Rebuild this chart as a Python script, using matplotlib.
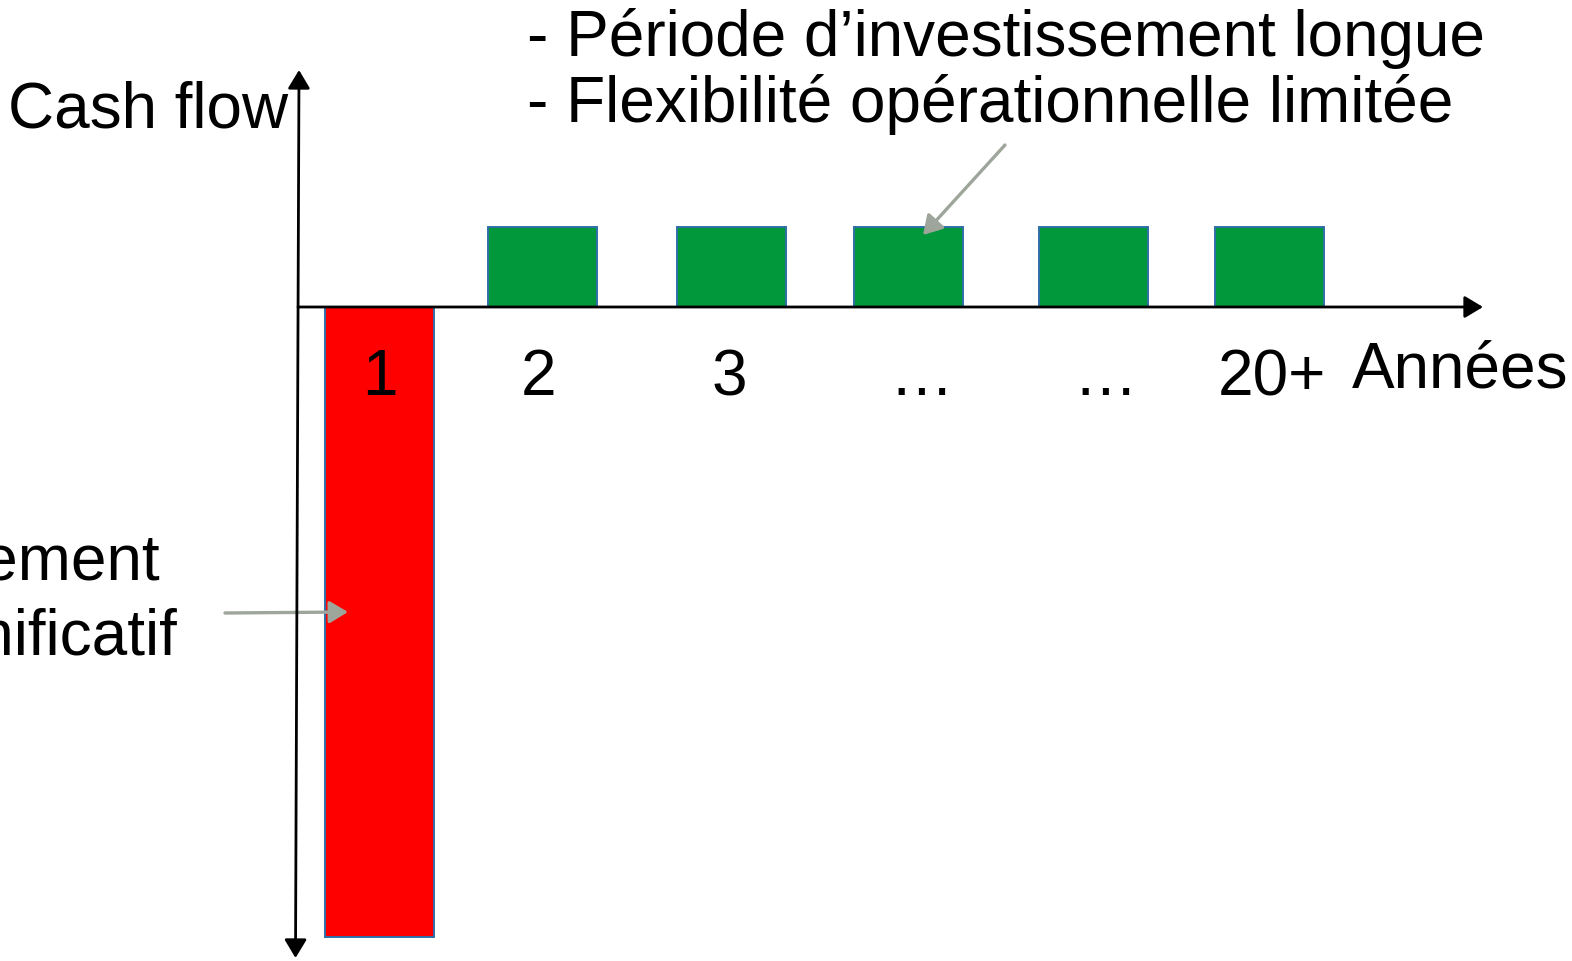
import matplotlib
matplotlib.use('Agg')
import matplotlib.pyplot as plt

plt.rcParams['font.family'] = ['Liberation Sans', 'DejaVu Sans']

# data
years = ['1', '2', '3', '…', '…', '20+']
cash_flows = [-7.87, 1.0, 1.0, 1.0, 1.0, 1.0]
bar_colors = ['#FF0000', '#00983A', '#00983A', '#00983A', '#00983A', '#00983A']
notes_top = ['- Période d’investissement longue', '- Flexibilité opérationnelle limitée']
notes_left = ['Investissement', 'initial significatif']

# layout (pixels of the 1572x961 picture)
W, H = 1572, 961
bar_x = [379, 542.5, 731.5, 908, 1093, 1269.5]
label_x = [380, 539, 729, 921, 1105, 1272]
y0 = 307       # pixel row of the zero line
unit = 80      # pixels per cash-flow unit
fs = 46
grey = '#9EA69B'
edge = '#2F6FA7'

def vy(ypix):
    return (y0 - ypix) / unit

fig = plt.figure(figsize=(W / 100, H / 100), dpi=100)
ax = fig.add_axes([0, 0, 1, 1])
ax.set_xlim(0, W)
ax.set_ylim(vy(H), vy(0))
ax.axis('off')

ax.bar(bar_x, cash_flows, width=109, color=bar_colors, edgecolor=edge, linewidth=1.4, zorder=2)

# axes with arrows
head = '-|>,head_length=0.4,head_width=0.24'
ax.annotate('', xy=(1483, 0), xytext=(298, 0),
            arrowprops=dict(arrowstyle=head, lw=2.0, color='black', mutation_scale=28,
                            shrinkA=0, shrinkB=0), zorder=3)
ax.annotate('', xy=(299, vy(70)), xytext=(295.5, vy(958)),
            arrowprops=dict(arrowstyle='<|-|>,head_length=0.4,head_width=0.24', lw=2.0, color='black',
                            mutation_scale=28, shrinkA=0, shrinkB=0), zorder=3)

# grey pointer arrows
ax.annotate('', xy=(348, vy(612)), xytext=(225, vy(613)),
            arrowprops=dict(arrowstyle=head, lw=2.4, color=grey, mutation_scale=28,
                            shrinkA=0, shrinkB=0), zorder=2.5)
ax.annotate('', xy=(923, vy(235)), xytext=(1005, vy(145)),
            arrowprops=dict(arrowstyle=head, lw=2.4, color=grey, mutation_scale=28,
                            shrinkA=0, shrinkB=0), zorder=4)

# category labels
for x, lab in zip(label_x, years):
    ax.text(x, vy(395), lab, ha='center', va='baseline', fontsize=fs, zorder=5)

ax.text(1352, vy(388), 'Années', ha='left', va='baseline', fontsize=fs)
ax.text(8, vy(127), 'Cash flow', ha='left', va='baseline', fontsize=fs)

for i, line in enumerate(notes_top):
    ax.text(527, vy(56 + 66 * i), line, ha='left', va='baseline', fontsize=fs)
for i, line in enumerate(notes_left):
    ax.text(-266, vy(580 + 75 * i), line, ha='left', va='baseline', fontsize=fs, clip_on=False)

fig.savefig('out.png', dpi=100)
